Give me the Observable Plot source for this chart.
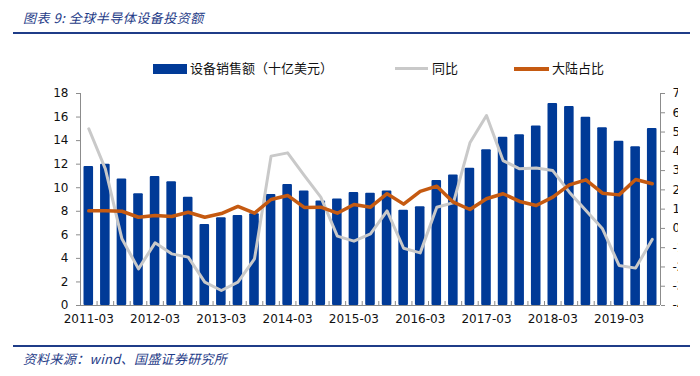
<!DOCTYPE html>
<html><head><meta charset="utf-8">
<script src="https://cdn.jsdelivr.net/npm/d3@7"></script>
<script src="https://cdn.jsdelivr.net/npm/@observablehq/plot@0.6"></script>
<style>
body{margin:0;background:#fff;}
#wrap{position:relative;width:700px;height:376px;overflow:hidden;font-family:"Noto Sans CJK SC",sans-serif;background:#fff;}
.title,.foot{position:absolute;left:23px;font-size:13px;font-style:italic;color:#1f3c88;white-space:nowrap;line-height:16px;}
.title{top:10px;letter-spacing:0.5px;}
.foot{top:351px;letter-spacing:0.3px;}
.hline{position:absolute;left:13px;width:677px;height:1.5px;background:#1f3c88;}
#chart{position:absolute;left:0;top:0;width:678px;height:376px;overflow:hidden;}
.lg{position:absolute;font-size:13px;color:#111;white-space:nowrap;line-height:16px;top:60px;}
.sw{position:absolute;}
</style>
</head><body>
<div id="wrap">
  <div id="chart"></div>
  <div class="title">图表 9:  全球半导体设备投资额</div>
  <div class="hline" style="top:32px"></div>
  <div class="sw" style="left:153px;top:64px;width:34px;height:10px;background:#003a97"></div>
  <div class="lg" style="left:190px">设备销售额（十亿美元）</div>
  <div class="sw" style="left:395px;top:67px;width:33px;height:3px;background:#c9c9c9"></div>
  <div class="lg" style="left:432px">同比</div>
  <div class="sw" style="left:514px;top:67px;width:35px;height:3.5px;background:#c55a11"></div>
  <div class="lg" style="left:552px">大陆占比</div>
  <div class="hline" style="top:345px"></div>
  <div class="foot">资料来源：wind、国盛证券研究所</div>
</div>
<script>
const quarters = ["2011-03","2011-06","2011-09","2011-12","2012-03","2012-06","2012-09","2012-12",
  "2013-03","2013-06","2013-09","2013-12","2014-03","2014-06","2014-09","2014-12",
  "2015-03","2015-06","2015-09","2015-12","2016-03","2016-06","2016-09","2016-12",
  "2017-03","2017-06","2017-09","2017-12","2018-03","2018-06","2018-09","2018-12",
  "2019-03","2019-06","2019-09"];
const sales = [11.8, 12.0, 10.75, 9.48, 10.95, 10.5, 9.2, 6.88, 7.45, 7.64, 7.78, 9.42,
  10.27, 9.73, 8.88, 9.05, 9.59, 9.53, 9.73, 8.09, 8.38, 10.61, 11.09, 11.66,
  13.22, 14.29, 14.49, 15.25, 17.15, 16.9, 15.99, 15.09, 13.95, 13.47, 15.03];
const yoy = [51.7, 30.9, -5.4, -21.0, -7.5, -13.2, -14.9, -27.9, -32.2, -27.9, -15.8, 37.5,
  39.2, 27.5, 16.2, -4.0, -6.6, -2.8, 9.1, -10.3, -12.7, 11.0, 13.3, 44.4,
  58.6, 35.2, 30.9, 31.3, 30.0, 18.8, 9.3, -0.2, -19.2, -20.6, -5.7];
const share = [9.1, 9.2, 8.9, 5.8, 6.7, 6.2, 8.4, 5.8, 7.7, 11.4, 7.9, 15.0,
  17.1, 10.9, 11.0, 7.9, 12.4, 11.0, 18.0, 12.6, 19.2, 21.9, 13.6, 9.8,
  15.4, 18.0, 14.0, 11.9, 16.2, 22.6, 25.2, 18.3, 17.4, 25.4, 23.2];
const leftTicks = [0, 2, 4, 6, 8, 10, 12, 14, 16, 18];
const rightTicks = [-40, -30, -20, -10, 0, 10, 20, 30, 40, 50, 60, 70];
const labelEvery = 4;

const pctToY = p => (p + 40) * 18 / 110;
const yToPct = v => Math.round(v * 110 / 18 - 40);
const rows = quarters.map((q, i) => ({i, q, sales: sales[i], yoy: yoy[i], share: share[i]}));
const labelIdx = d3.range(0, quarters.length, labelEvery);

const chart = Plot.plot({
  width: 678, height: 376,
  marginLeft: 80, marginRight: 18, marginTop: 93, marginBottom: 71,
  x: {type: "linear", domain: [0, quarters.length], label: null},
  y: {domain: [0, 18], label: null},
  style: {fontFamily: "DejaVu Sans", fontSize: "12px", color: "#111", background: "transparent", overflow: "hidden"},
  marks: [
    Plot.rectY(rows, {x1: "i", x2: d => d.i + 1, y: "sales", fill: "#003a97", insetLeft: 3.5, insetRight: 3.5, rx: 1}),
    Plot.lineY(rows, {x: d => d.i + 0.5, y: d => pctToY(d.yoy), stroke: "#c9c9c9", strokeWidth: 3}),
    Plot.lineY(rows, {x: d => d.i + 0.5, y: d => pctToY(d.share), stroke: "#c55a11", strokeWidth: 3.5}),
    Plot.ruleY([0], {stroke: "#8c8c8c"}),
    Plot.ruleX([0, quarters.length], {y1: 0, y2: 18, stroke: "#8c8c8c"}),
    Plot.axisY({ticks: leftTicks, tickSize: 4, tickPadding: 8, stroke: "#8c8c8c", label: null, tickFormat: d => d}),
    Plot.axisY({anchor: "right", ticks: rightTicks.map(pctToY), tickSize: 4, tickPadding: 8, stroke: "#8c8c8c", label: null, tickFormat: v => yToPct(v) + "%"}),
    Plot.axisX({ticks: d3.range(0, quarters.length + 1), tickSize: 4, dy: -4, stroke: "#8c8c8c", label: null, tickFormat: () => ""}),
    Plot.axisX({ticks: labelIdx.map(i => i + 0.5), tickSize: 0, tickPadding: 9, label: null, tickFormat: v => quarters[Math.round(v - 0.5)]})
  ]
});
document.getElementById("chart").appendChild(chart);
</script>
</body></html>
